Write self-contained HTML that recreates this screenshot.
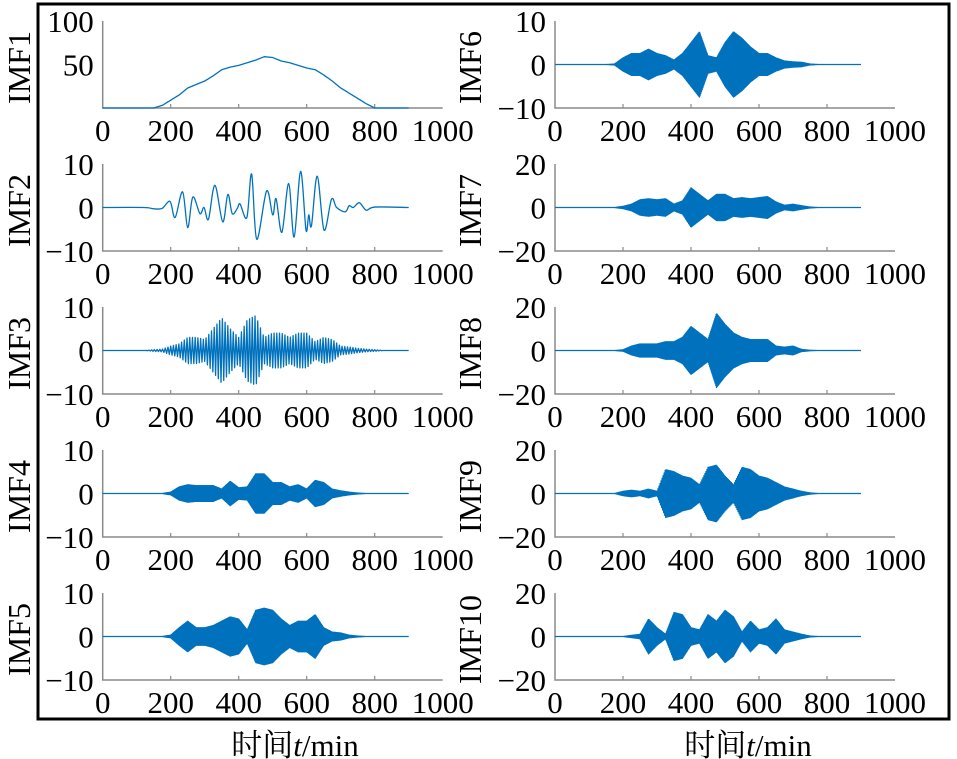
<!DOCTYPE html>
<html><head><meta charset="utf-8"><style>
html,body{margin:0;padding:0;background:#fff}
svg{display:block}
text{font-family:"Liberation Serif","Noto Serif CJK SC",serif;fill:#000}
</style></head><body>
<svg id="chart" width="957" height="759" viewBox="0 0 957 759" xmlns="http://www.w3.org/2000/svg">
<rect x="38" y="4" width="911" height="715" fill="none" stroke="#000" stroke-width="3"/>
<text x="295" y="756" font-size="31" text-anchor="middle">时间<tspan font-style="italic">t</tspan>/min</text>
<text x="748" y="756" font-size="31" text-anchor="middle">时间<tspan font-style="italic">t</tspan>/min</text>
</svg>
<script>
// time grid step 25 min, 0..900
const imf1 = [0,0,0,0,0,0,0,3,9,15,23,27,31,37,44,47,49,52,55,59,58,54,52,49,46,44,38,31,23,17,11,5,0,0,0,0,0];
const imf2T = [0,120,150,175,198,213,235,250,265,286,298,311,330,353,368,381,396,404,424,438,453,482,500,510,527,547,563,582,598,606,614,631,651,673,688,713,725,737,755,775,801,900];
const imf2V = [0,0,-0.3,-0.2,1.4,-2.3,3.6,-4.6,2.4,-1.4,0,-2.7,5.1,-3.3,3,-1.4,-0.2,0.8,-2.3,7.7,-7.3,3.8,-1.7,2,-5.7,5.5,-6.8,8.3,-5.2,-1.7,-4.2,7.2,-5.2,1.9,0,-1,0.4,0,1.1,-0.6,0.1,0];
const imf3 = [0,0,0,0,0,0,0.2,0.3,1,1.5,3,3,2.5,5,7.5,5,3,7,8,3,4,4,3,4,4,2,3,2.5,1,0.8,0.5,0.3,0.2,0,0,0,0];
const imf4 = [0,0,0,0,0,0,0,0,0.3,1.5,2,1.8,1.8,1.8,1,2.8,1.3,1.5,4.5,4.5,2.5,2.5,1.5,2,1,3,2.5,1,0.6,0.3,0.1,0,0,0,0,0,0];
const imf5 = [0,0,0,0,0,0,0,0,0.3,2,3.5,2,2,2.5,3.5,4.5,4,1.5,6,6.5,6,4,2.5,3.5,3.5,5,2,1,0.8,0.3,0.1,0,0,0,0,0,0];
const imf6 = [0,0,0,0,0,0,0,0.1,1.5,2.5,2.5,3.5,2.5,2,1,2.5,5,7.5,2,1.5,5,7.5,6,4,2.5,2.5,1.5,0.8,0.6,0.5,0.1,0,0,0,0,0,0];
const imf7 = [0,0,0,0,0,0,0,0,0.5,1.5,3.5,4,3.5,4,1.5,3,9,6,3,6,6,4,4.5,4,4.5,5,2.5,1,1.5,0.8,0.2,0,0,0,0,0,0];
const imf8 = [0,0,0,0,0,0,0,0,0.3,2,3,3,3,4,4,6,11,8,5,17,12,8,6,5,5,5,2,1.5,2,0.5,0.1,0,0,0,0,0,0];
const imf9 = [0,0,0,0,0,0,0,0,1,1.5,1,2,1,11,10,8,7,4,12,13,8,4,12,11,8,7,5,3,2,1,0.3,0,0,0,0,0,0];
const imf10 = [0,0,0,0,0,0,0,0,0,0.5,1,8,4,1,11,10,4,3,10,7,12,9,2,7,3,4,8,3,2,1,0.2,0,0,0,0,0,0];
const xTicks = [0,200,400,600,800,1000];
const panels = [
 {name:'IMF1',col:0,row:0,min:0,max:100,ticks:[50,100],type:'line1'},
 {name:'IMF2',col:0,row:1,min:-10,max:10,ticks:[-10,0,10],type:'line2'},
 {name:'IMF3',col:0,row:2,min:-10,max:10,ticks:[-10,0,10],env:imf3,h:4},
 {name:'IMF4',col:0,row:3,min:-10,max:10,ticks:[-10,0,10],env:imf4,h:1},
 {name:'IMF5',col:0,row:4,min:-10,max:10,ticks:[-10,0,10],env:imf5,h:1},
 {name:'IMF6',col:1,row:0,min:-10,max:10,ticks:[-10,0,10],env:imf6,h:1},
 {name:'IMF7',col:1,row:1,min:-20,max:20,ticks:[-20,0,20],env:imf7,h:1},
 {name:'IMF8',col:1,row:2,min:-20,max:20,ticks:[-20,0,20],env:imf8,h:1},
 {name:'IMF9',col:1,row:3,min:-20,max:20,ticks:[-20,0,20],env:imf9,h:1.5},
 {name:'IMF10',col:1,row:4,min:-20,max:20,ticks:[-20,0,20],env:imf10,h:1}
];
const NS='http://www.w3.org/2000/svg';
const svg=document.getElementById('chart');
const BLUE='#0072BD';
function mk(tag,attrs,parent){const e=document.createElementNS(NS,tag);for(const k in attrs)e.setAttribute(k,attrs[k]);(parent||svg).appendChild(e);return e;}
function interp(arr,t){const i=t/25;const a=Math.floor(i);if(a>=arr.length-1)return arr[arr.length-1];const f=i-a;return arr[a]*(1-f)+arr[a+1]*f;}
panels.forEach(p=>{
  const x0=p.col===0?102.7:555, W=340, top=21+143*p.row, H=87, bot=top+H;
  const sx=t=>x0+t/1000*W;
  const sy=v=>bot-(v-p.min)/(p.max-p.min)*H;
  const g=mk('g',{});
  
  
  const ax=mk('path',{d:`M${x0} ${top}V${bot}H${x0+W}`,fill:'none',stroke:'#8a8a8a','stroke-width':1.5},g);
  
  
  xTicks.forEach(t=>{
    if(t>0&&t<1000){const tk=mk('line',{x1:sx(t),x2:sx(t),y1:bot,y2:bot-4,stroke:'#8a8a8a','stroke-width':1.2},g);
      
      }
    const lb=mk('text',{x:sx(t),y:bot+33,'font-size':31,'text-anchor':'middle'},g);
    lb.textContent=String(t);
    
    
  });
  p.ticks.forEach(v=>{
    const lb=mk('text',{x:x0-9,y:sy(v)+11,'font-size':31,'text-anchor':'end'},g);
    lb.textContent=v<0?'\u2212'+Math.abs(v):String(v);
    
    
  });
  const lx=p.col===0?30:481, ly=top+H/2+3;
  const yl=mk('text',{x:lx,y:ly,'font-size':32,'text-anchor':'middle',transform:`rotate(-90 ${lx} ${ly})`},g);
  yl.textContent=p.name;
  
  
  let d='';
  if(p.type==='line1'){
    imf1.forEach((v,i)=>{d+=(i?'L':'M')+sx(i*25).toFixed(2)+' '+sy(v).toFixed(2);});
  } else if(p.type==='line2'){
    const P=imf2T.map((t,i)=>[sx(t),sy(imf2V[i])]);
    d='M'+P[0][0]+' '+P[0][1];
    for(let i=0;i<P.length-1;i++){
      const a=P[Math.max(0,i-1)],b=P[i],c=P[i+1],e=P[Math.min(P.length-1,i+2)];
      const c1=[b[0]+(c[0]-a[0])/6,b[1]+(c[1]-a[1])/6],c2=[c[0]-(e[0]-b[0])/6,c[1]-(e[1]-b[1])/6];
      d+=`C${c1[0].toFixed(2)} ${c1[1].toFixed(2)} ${c2[0].toFixed(2)} ${c2[1].toFixed(2)} ${c[0].toFixed(2)} ${c[1].toFixed(2)}`;
    }
  } else {
    let s=1;d='M'+sx(0)+' '+sy(0);
    for(let t=0;t<=900;t+=p.h){const a=interp(p.env,t);d+='L'+sx(t).toFixed(2)+' '+sy(s*a).toFixed(2);s=-s;}
    d+='L'+sx(900)+' '+sy(0);
  }
  const ln=mk('path',{d:d,fill:'none',stroke:BLUE,'stroke-width':1.3,'stroke-linejoin':'round'},g);
  
  
});
</script>
</body></html>
